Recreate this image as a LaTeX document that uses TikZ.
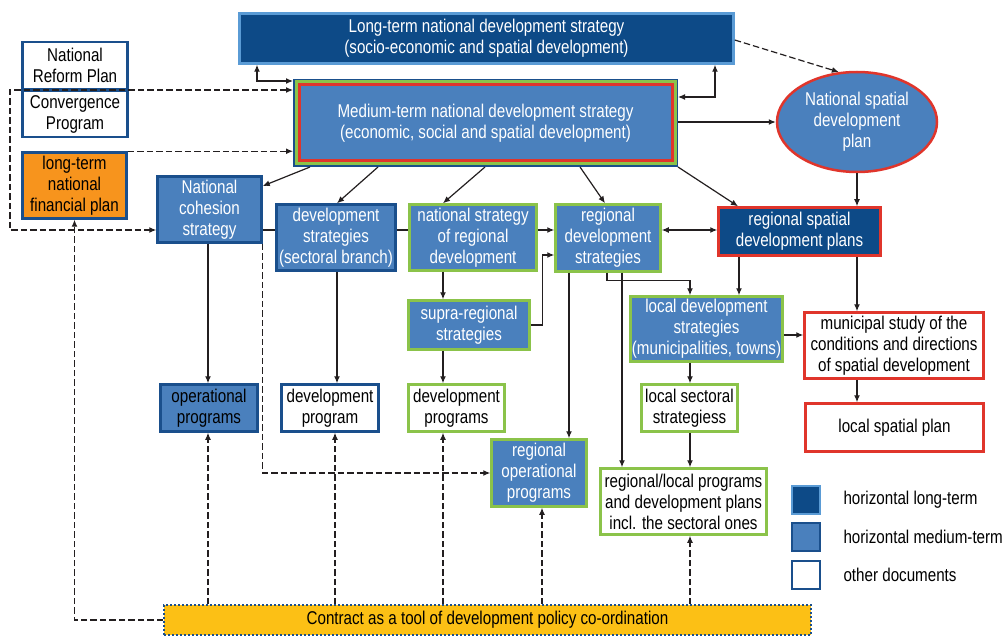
\documentclass[tikz,border=0pt]{standalone}
\usepackage{fontspec}
\setmainfont{Liberation Sans}[FakeStretch=0.82]
\usetikzlibrary{arrows.meta,shapes.geometric}
\definecolor{dkblue}{HTML}{0D4A87}
\definecolor{mdblue}{HTML}{4A80BD}
\definecolor{bdblue}{HTML}{1A4F8C}
\definecolor{ltblue}{HTML}{5A9BD5}
\definecolor{grn}{HTML}{8BC34A}
\definecolor{spred}{HTML}{E0352B}
\definecolor{orng}{HTML}{F7941D}
\definecolor{yllw}{HTML}{FCC015}
\definecolor{lnk}{HTML}{231F20}
\begin{document}
\begin{tikzpicture}[x=1pt,y=-1pt,
    font=\fontsize{18.5}{21}\selectfont,
    >={Latex[length=7pt,width=6pt]},
    doc/.style={draw, line width=2.5pt, align=center, inner sep=0pt},
    lterm/.style={doc, fill=dkblue, draw=ltblue, text=white},
    mterm/.style={doc, fill=mdblue, draw=bdblue, text=white},
    reg/.style={doc, fill=mdblue, draw=grn, text=white},
    other/.style={doc, fill=white, draw=bdblue},
    spat/.style={doc, fill=white, draw=spred},
    link/.style={line width=1.2pt, draw=lnk},
    dsh/.style={link, dash pattern=on 6.5pt off 3pt}]
  \useasboundingbox (0,0) rectangle (1006,636);
  % documents
  \node[lterm, minimum width=494, minimum height=50] (lt) at (486.5,38.5) {Long-term national development strategy\\(socio-economic and spatial development)};
  \node[mterm, line width=3pt, minimum width=382, minimum height=85] (mt) at (485.5,123) {Medium-term national development strategy\\(economic, social and spatial development)};
  \draw[grn, line width=3pt] ([shift={(3,3)}]mt.north west) rectangle ([shift={(-3,-3)}]mt.south east);
  \draw[spred, line width=3pt] ([shift={(6,6)}]mt.north west) rectangle ([shift={(-6,-6)}]mt.south east);
  \node[doc, ellipse, fill=mdblue, draw=spred, text=white, minimum width=160, minimum height=100] (nsdp) at (857,122) {National spatial\\development\\plan};
  \node[other, minimum width=105, minimum height=47] (nrp) at (75,65.5) {National\\Reform Plan};
  \node[other, minimum width=105, minimum height=46] (conv) at (75,114) {Convergence\\Program};
  \node[other, fill=orng, minimum width=104, minimum height=66] (fin) at (74.5,185.5) {long-term\\national\\financial plan};
  \node[mterm, minimum width=104, minimum height=66] (coh) at (209.5,209.5) {National\\cohesion\\strategy};
  \node[mterm, minimum width=119, minimum height=66] (dev) at (336,237.5) {development\\strategies\\(sectoral branch)};
  \node[reg, minimum width=127, minimum height=66] (nsr) at (473,237.5) {national strategy\\of regional\\development};
  \node[reg, minimum width=105, minimum height=67] (rds) at (608,238) {regional\\development\\strategies};
  \node[lterm, draw=spred, minimum width=162, minimum height=48] (rsdp) at (799.5,231.5) {regional spatial\\development plans};
  \node[reg, minimum width=121, minimum height=49] (sup) at (469,325) {supra-regional\\strategies};
  \node[reg, minimum width=152, minimum height=65] (lds) at (706.5,329) {local development\\strategies\\(municipalities, towns)};
  \node[spat, minimum width=179, minimum height=66] (mun) at (894,345.5) {municipal study of the\\conditions and directions\\of spatial development};
  \node[mterm, text=black, minimum width=97, minimum height=47] (opp) at (209,408) {operational\\programs};
  \node[other, minimum width=97, minimum height=47] (dpr) at (330,408) {development\\program};
  \node[other, draw=grn, minimum width=96, minimum height=47] (dps) at (456.5,408) {development\\programs};
  \node[other, draw=grn, minimum width=96, minimum height=47] (lss) at (689.5,408) {local sectoral\\strategiess};
  \node[spat, minimum width=178, minimum height=48] (lsp) at (894.5,427.5) {local spatial plan};
  \node[reg, minimum width=95, minimum height=67] (rop) at (539,473) {regional\\operational\\programs};
  \node[other, draw=grn, minimum width=166, minimum height=66] (rlp) at (683.5,501.5) {regional/local programs\\and development plans\\incl. the sectoral ones};
  \node[doc, fill=yllw, draw=bdblue, line width=2pt, dash pattern=on 2pt off 2pt, minimum width=647, minimum height=30] (ctr) at (487.5,620) {Contract as a tool of development policy co-ordination};
  % legend
  \node[lterm, minimum size=28] (lg1) at (806,500) {};
  \node[mterm, minimum size=28] (lg2) at (806,537) {};
  \node[other, minimum size=28] (lg3) at (806,575) {};
  \node[anchor=west] (lt1) at (840,500) {horizontal long-term};
  \node[anchor=west] (lt2) at (840,537) {horizontal medium-term};
  \node[anchor=west] (lt3) at (840,575) {other documents};
  % connectors
  \coordinate (row) at (0,230);
  \coordinate (nrpl) at (10,90);
  \draw[link,<->] (lt.south -| 257,0) |- (mt.west |- 0,81);
  \draw[link,<->] (lt.south -| 715,0) |- (mt.east |- 0,97);
  \draw[dsh,->] (lt.east |- 0,40) -- (nsdp.110);
  \draw[link,->] (mt.east |- nsdp.west) -- (nsdp.west);
  \draw[dsh,<->] (mt.west |- nrpl) -- (nrpl) |- (coh.west |- row);
  \draw[dsh,->] (fin.north east) -- (mt.west |- fin.north east);
  \draw[dsh,->] (ctr.west) -| (fin.south);
  \draw[dsh,->] (coh.south east) |- (rop.west);
  \draw[link,->] (mt.south -| 310,0) -- (coh.east |- 0,186);
  \draw[link,->] (mt.south -| 378,0) -- (dev.north -| 337,0);
  \draw[link,->] (mt.south -| 485,0) -- (nsr.north -| 443,0);
  \draw[link,->] (mt.south -| 580,0) -- (rds.north -| 605,0);
  \draw[link,->] (mt.south east) -- (rsdp.north -| 738,0);
  \draw[link] (coh.east |- row) -- (dev.west |- row);
  \draw[link] (dev.east |- row) -- (nsr.west |- row);
  \draw[link,->] (nsr.east |- row) -- (rds.west |- row);
  \draw[link,<->] (rds.east |- row) -- (rsdp.west |- row);
  \draw[link,->] (sup.east) -- ++(12,0) |- (rds.west |- 0,255);
  \draw[link,->] (rds.south -| 607,0) -- ++(0,8) -| (lds.north -| 690,0);
  \draw[link,->] (lds.east |- 0,335) -- (mun.west |- 0,335);
  \foreach \a/\b/\x in {nsdp/rsdp/857, coh/opp/208, dev/dpr/337, nsr/sup/443, sup/dps/443, rds/rop/569, rds/rlp/622, rsdp/lds/739, rsdp/mun/857, lds/lss/690, lss/rlp/690, mun/lsp/857}
    \draw[link,->] (\a.south -| \x,0) -- (\b.north -| \x,0);
  \foreach \b/\x in {opp/208, dpr/335, dps/443, rop/542, rlp/690}
    \draw[dsh,->] (ctr.north -| \x,0) -- (\b.south -| \x,0);
\end{tikzpicture}
\end{document}
